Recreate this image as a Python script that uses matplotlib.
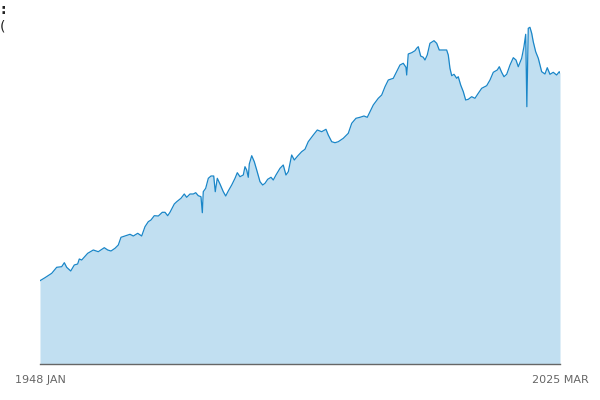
#!/usr/bin/env python3
"""
Monthly series, 1948 JAN - 2025 MAR, drawn as a filled area chart.
Values are read off the reference picture (index units, baseline 0).
"""

import matplotlib
matplotlib.use("Agg")
import matplotlib.pyplot as plt

# Time (decimal years) and values
years = [
    1948.00, 1948.74, 1949.74, 1950.48, 1951.22, 1951.61, 1951.96, 1952.56,
    1953.09, 1953.59, 1953.83, 1954.19, 1955.08, 1955.91, 1956.65, 1957.54,
    1958.05, 1958.54, 1959.13, 1959.62, 1960.02, 1960.61, 1961.36, 1961.85,
    1962.50, 1963.09, 1963.58, 1964.07, 1964.47, 1964.96, 1965.56, 1966.15,
    1966.55, 1966.95, 1967.29, 1967.93, 1968.29, 1968.92, 1969.41, 1969.77,
    1970.26, 1970.75, 1971.11, 1971.49, 1971.89, 1972.09, 1972.23, 1972.59,
    1972.98, 1973.38, 1973.78, 1974.01, 1974.31, 1974.71, 1975.20, 1975.56,
    1975.94, 1976.45, 1976.94, 1977.28, 1977.68, 1978.17, 1978.42, 1978.67,
    1978.91, 1979.06, 1979.42, 1979.80, 1980.16, 1980.65, 1981.05, 1981.39,
    1981.79, 1982.28, 1982.62, 1983.02, 1983.62, 1984.10, 1984.50, 1984.85,
    1985.35, 1985.74, 1986.24, 1986.83, 1987.32, 1987.81, 1988.56, 1989.15,
    1989.80, 1990.44, 1990.78, 1991.29, 1991.78, 1992.27, 1993.01, 1993.75,
    1994.26, 1994.89, 1995.49, 1996.08, 1996.57, 1996.97, 1997.46, 1998.20,
    1998.71, 1999.20, 1999.69, 2000.43, 2000.93, 2001.42, 2001.91, 2002.31,
    2002.42, 2002.65, 2003.16, 2003.65, 2003.90, 2004.14, 2004.49, 2004.88,
    2005.13, 2005.47, 2005.87, 2006.47, 2006.87, 2007.25, 2007.85, 2008.35,
    2008.59, 2008.84, 2009.10, 2009.44, 2009.84, 2010.07, 2010.43, 2010.82,
    2011.17, 2011.56, 2012.06, 2012.55, 2013.04, 2013.55, 2014.29, 2014.78,
    2015.27, 2015.86, 2016.16, 2016.51, 2016.86, 2017.26, 2017.75, 2018.24,
    2018.64, 2018.98, 2019.48, 2019.82, 2020.08, 2020.25, 2020.37, 2020.46,
    2020.71, 2020.97, 2021.20, 2021.56, 2021.95, 2022.45, 2022.94, 2023.28,
    2023.68, 2024.17, 2024.67, 2025.06, 2025.17,
]
values = [
    83.3, 86.3, 90.7, 96.7, 97.3, 101.3, 96.7, 93.0,
    99.0, 100.0, 105.0, 104.0, 110.7, 114.0, 112.3, 116.3,
    114.0, 113.0, 115.7, 119.0, 126.7, 128.0, 129.7, 128.0,
    130.7, 128.0, 137.3, 142.3, 144.0, 148.3, 148.0, 151.7,
    151.7, 148.3, 151.7, 160.0, 162.3, 165.7, 170.0, 166.7,
    170.0, 170.0, 171.3, 168.3, 167.3, 151.3, 172.3, 175.7,
    185.7, 188.0, 188.0, 172.3, 185.7, 180.0, 172.3, 168.0,
    173.0, 179.0, 185.7, 191.3, 187.3, 189.0, 197.3, 194.0,
    186.7, 200.0, 208.3, 202.3, 194.0, 182.3, 179.0, 180.7,
    184.7, 186.7, 184.0, 189.0, 195.7, 199.0, 189.0, 192.3,
    209.0, 204.0, 208.0, 212.3, 214.7, 222.3, 229.0, 234.0,
    232.3, 234.7, 229.0, 222.3, 221.3, 222.3, 225.7, 230.7,
    240.7, 245.7, 246.7, 248.0, 246.7, 252.3, 259.0, 265.7,
    269.0, 277.3, 284.0, 285.7, 292.3, 299.0, 300.7, 296.7,
    289.0, 310.0, 311.3, 313.3, 315.7, 317.3, 308.0, 306.7,
    304.0, 309.0, 320.7, 323.3, 320.7, 314.0, 314.0, 314.0,
    309.0, 295.7, 288.3, 289.7, 285.7, 287.3, 279.0, 272.3,
    264.0, 264.7, 267.3, 265.7, 270.7, 275.7, 278.3, 284.0,
    291.7, 294.0, 297.3, 291.7, 287.3, 289.7, 299.0, 306.3,
    304.0, 297.3, 305.7, 317.3, 329.7, 257.3, 302.3, 335.7,
    336.7, 330.7, 322.3, 312.3, 305.7, 292.3, 290.0, 296.3,
    289.7, 291.7, 289.0, 292.3, 291.0,
]
tick_years = [1948.0, 2025.17]
tick_labels = ["1948 JAN", "2025 MAR"]

LINE = "#1a86c8"
FILL = "#c1dff1"
GREY = "#666666"


def main():
    fig = plt.figure(figsize=(6, 4), dpi=100)
    ax = fig.add_axes([40 / 600, 1 - 364 / 400, 520 / 600, 344 / 400])

    ax.fill_between(years, values, 0, color=FILL, linewidth=0)
    ax.plot(years, values, color=LINE, linewidth=0.9)

    ax.set_xlim(tick_years[0], tick_years[-1])
    ax.set_ylim(0, 344)

    for side in ("top", "right", "left"):
        ax.spines[side].set_visible(False)
    ax.spines["bottom"].set_color(GREY)
    ax.spines["bottom"].set_linewidth(1.0)

    ax.set_yticks([])
    ax.set_xticks(tick_years)
    ax.set_xticklabels(tick_labels)
    ax.tick_params(axis="x", length=0, pad=8, labelsize=8, labelcolor=GREY)

    # clipped title fragments at the top-left edge
    fig.text(0.0, 1 - 3 / 400, ":", ha="left", va="top", fontsize=10,
             color="#222222", fontweight="bold")
    fig.text(0.0, 1 - 20 / 400, "(", ha="left", va="top", fontsize=10,
             color="#222222")

    fig.savefig("out.png", dpi=100)


if __name__ == "__main__":
    main()
